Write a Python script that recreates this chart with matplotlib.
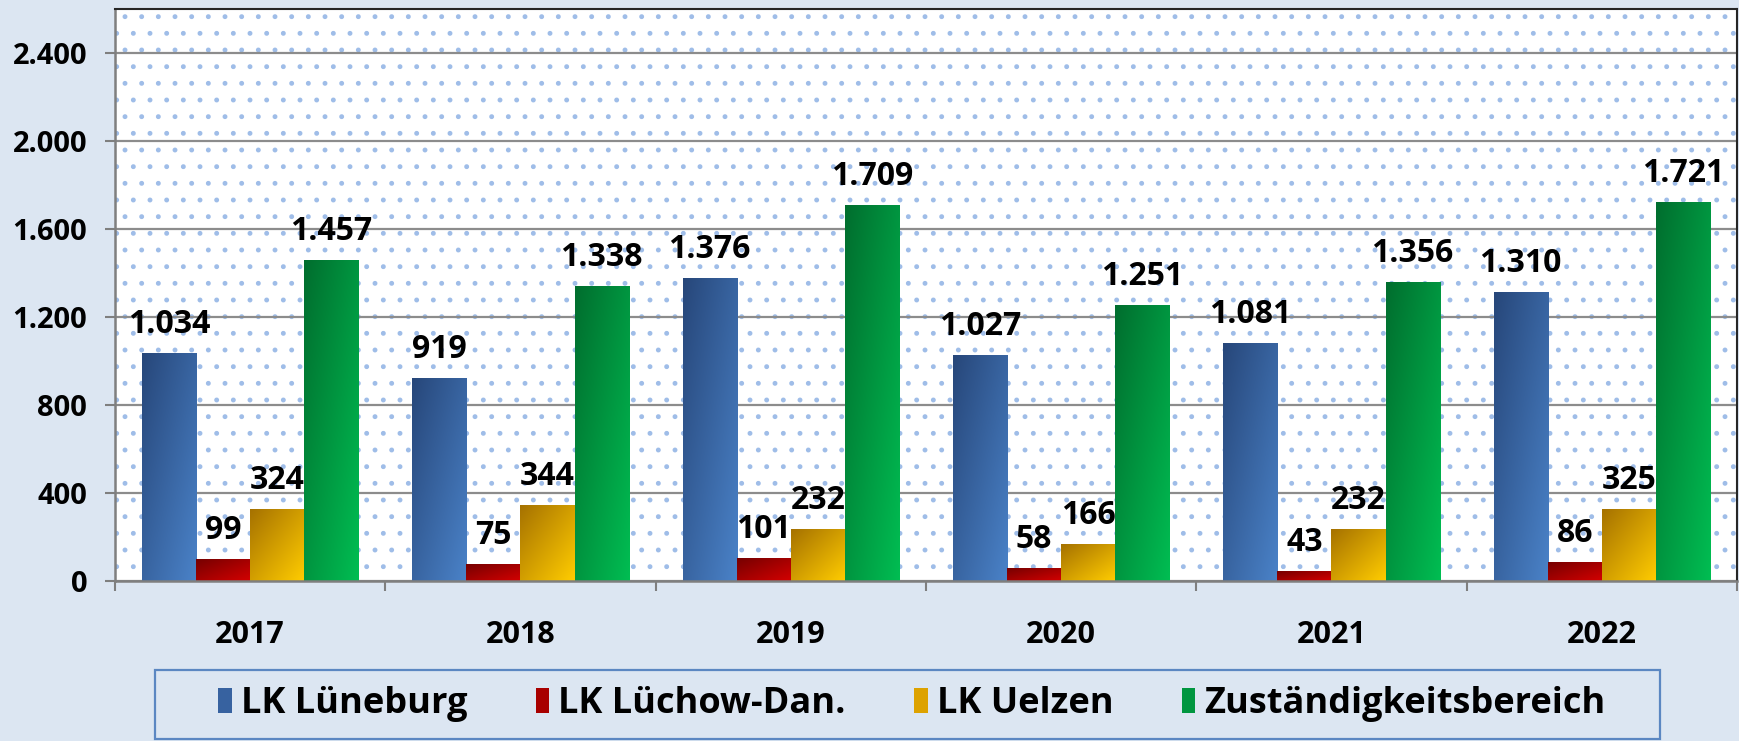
import matplotlib
matplotlib.use('Agg')
import matplotlib.pyplot as plt
from matplotlib.colors import LinearSegmentedColormap
from matplotlib.patches import Patch, Rectangle
import numpy as np

years = ['2017', '2018', '2019', '2020', '2021', '2022']
lueneburg = [1034, 919, 1376, 1027, 1081, 1310]
luechow = [99, 75, 101, 58, 43, 86]
uelzen = [324, 344, 232, 166, 232, 325]
zust = [1457, 1338, 1709, 1251, 1356, 1721]
series_names = ['LK Lüneburg', 'LK Lüchow-Dan.', 'LK Uelzen', 'Zuständigkeitsbereich']
yticks = [0, 400, 800, 1200, 1600, 2000, 2400]

# dark -> light pairs for the gradient fills
grads = [('#27477a', '#4a82c8'), ('#760000', '#d40000'),
         ('#a67200', '#ffcc00'), ('#006e2e', '#00bd52')]
legend_cols = ['#3762a0', '#a80000', '#dda200', '#009640']

plt.rcParams['font.family'] = ['Open Sans', 'DejaVu Sans']
plt.rcParams['font.weight'] = 'bold'
plt.rcParams['hatch.linewidth'] = 1.1

bg = '#dce6f2'
fig = plt.figure(figsize=(17.4, 7.41), dpi=100, facecolor=bg)
ax = fig.add_axes([115/1740, 1 - 581/741, 1622/1740, 572/741])

# dotted plot area
ax.patch.set_facecolor('white')
ax.patch.set_edgecolor('#9fbde8')
ax.patch.set_hatch('.')
ax.patch.set_linewidth(0)

x = np.arange(len(years))
w = 0.2
data = [lueneburg, luechow, uelzen, zust]
for i, vals in enumerate(data):
    bars = ax.bar(x + (i - 1.5) * w, vals, w, color='none', edgecolor='none', zorder=2)
    cmap = LinearSegmentedColormap.from_list('g%d' % i, grads[i])
    u, v = np.meshgrid(np.linspace(0, 1, 40), np.linspace(0, 1, 80))
    t = (u + v) / 2
    for b, val in zip(bars, vals):
        x0, bw, h = b.get_x(), b.get_width(), b.get_height()
        ax.imshow(t, extent=[x0, x0 + bw, 0, h], origin='upper', cmap=cmap,
                  aspect='auto', interpolation='bilinear', zorder=2)
        ax.annotate(f'{val:,}'.replace(',', '.'), (x0 + bw / 2, h),
                    xytext=(0, 9), textcoords='offset points',
                    ha='center', va='bottom', fontsize=23, fontweight='bold',
                    zorder=4)

ax.set_xlim(-0.5, len(years) - 0.5)
ax.set_ylim(0, 2600)
ax.set_yticks(yticks)
ax.set_yticklabels([f'{v:,}'.replace(',', '.') for v in yticks])
ax.yaxis.grid(True, color='#8c8c8c', linewidth=1.6)
ax.set_axisbelow(True)
ax.tick_params(axis='y', length=7, width=1.5, color='#7f7f7f', labelsize=21, pad=13)

ax.set_xticks(x)
ax.set_xticklabels(years)
ax.set_xticks(np.arange(len(years) + 1) - 0.5, minor=True)
ax.tick_params(axis='x', which='major', length=0, labelsize=22, pad=28)
ax.tick_params(axis='x', which='minor', length=7, width=1.5, color='#7f7f7f')

for s in ['left', 'bottom']:
    ax.spines[s].set_color('#7f7f7f')
    ax.spines[s].set_linewidth(1.8)
for s in ['top', 'right']:
    ax.spines[s].set_color('#262626')
    ax.spines[s].set_linewidth(1.5)

handles = [Patch(facecolor=c, edgecolor='none') for c in legend_cols]
fig.legend(handles, series_names, loc='center', bbox_to_anchor=(912/1740, 1 - 704/741),
           ncol=4, frameon=False, handlelength=0.37, handleheight=0.69,
           handletextpad=0.25, columnspacing=1.9, prop={'weight': 'bold', 'size': 26})
fig.patches.append(Rectangle((155/1740, 1 - 739/741), 1505/1740, 69/741,
                             transform=fig.transFigure, facecolor='none',
                             edgecolor='#5b87c2', linewidth=1.6))

fig.savefig('out.png', dpi=100, facecolor=bg)
